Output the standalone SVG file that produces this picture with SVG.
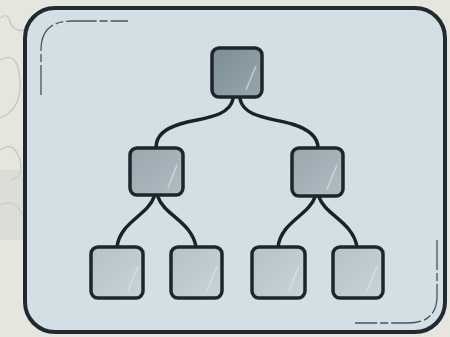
<svg xmlns="http://www.w3.org/2000/svg" width="450" height="337" viewBox="0 0 450 337">
<defs>
<linearGradient id="gTop" x1="0" y1="0" x2="1" y2="1"><stop offset="0" stop-color="#7d8d95"/><stop offset="1" stop-color="#97a6ad"/></linearGradient>
<linearGradient id="gMid" x1="0" y1="0" x2="1" y2="1"><stop offset="0" stop-color="#98a7ae"/><stop offset="1" stop-color="#b1bdc3"/></linearGradient>
<linearGradient id="gLeaf" x1="0" y1="0" x2="1" y2="1"><stop offset="0" stop-color="#b6c2c8"/><stop offset="1" stop-color="#c9d3d8"/></linearGradient>
</defs>
<style>
.node{stroke:#1d272b;stroke-width:3.5}
.hl{stroke:#dfe7eb;stroke-width:1.3;fill:none;opacity:0.7}
.edge{fill:none;stroke:#1a2226;stroke-width:3.5;stroke-linecap:round}
.sketch{fill:none;stroke:#46545a;stroke-width:1.3;stroke-dasharray:30 3 8 3}
</style>
<rect x="0" y="0" width="450" height="337" fill="#e7e6de"/>
<g fill="none" stroke="#b9bcb4" stroke-width="1.2" opacity="0.8">
<path d="M0 18 Q8 12 10 22 Q14 32 24 30"/>
<path d="M0 60 Q18 50 20 80 Q22 110 0 118"/>
<path d="M0 150 Q14 140 20 160 Q24 178 10 180"/>
<path d="M0 205 Q16 198 22 215"/>
</g>
<rect x="0" y="170" width="24" height="70" fill="#cfd3cf" opacity="0.5"/>
<rect x="25" y="8" width="420" height="324" rx="30" fill="#d4dfe5" stroke="#1f2b30" stroke-width="4"/>
<path class="sketch" d="M41 95 V50 Q41 21 72 21 H128"/>
<path class="sketch" d="M437 240 V296 Q437 323 408 323 H355"/>
<g id="connectors">
<path class="edge" d="M233 99 C229 118 200 118 180 124 C164 129 156 136 156 148"/>
<path class="edge" d="M240 99 C244 118 272 118 292 124 C308 129 318 136 318 148"/>
<path class="edge" d="M154 197 C148 215 120 222 117 247"/>
<path class="edge" d="M158 197 C164 215 192 222 196 247"/>
<path class="edge" d="M315 197 C309 215 281 222 278 247"/>
<path class="edge" d="M319 197 C325 215 353 222 357 247"/>
</g>
<g id="n1"><rect class="node" x="212" y="48" width="50" height="49" rx="7" fill="url(#gTop)"/><path class="hl" d="M256 66 L246 90"/></g>
<g id="n2"><rect class="node" x="130" y="148" width="53" height="47" rx="7" fill="url(#gMid)"/><path class="hl" d="M177 165 L168 188"/></g>
<g id="n3"><rect class="node" x="292" y="148" width="51" height="48" rx="7" fill="url(#gMid)"/><path class="hl" d="M337 165 L327 189"/></g>
<g id="n4"><rect class="node" x="91" y="247" width="52" height="51" rx="7" fill="url(#gLeaf)"/><path class="hl" d="M138 266 L128 291"/></g>
<g id="n5"><rect class="node" x="171" y="247" width="51" height="51" rx="7" fill="url(#gLeaf)"/><path class="hl" d="M217 266 L207 291"/></g>
<g id="n6"><rect class="node" x="252" y="247" width="53" height="51" rx="7" fill="url(#gLeaf)"/><path class="hl" d="M299 266 L289 291"/></g>
<g id="n7"><rect class="node" x="333" y="247" width="50" height="51" rx="7" fill="url(#gLeaf)"/><path class="hl" d="M377 266 L367 291"/></g>
</svg>
